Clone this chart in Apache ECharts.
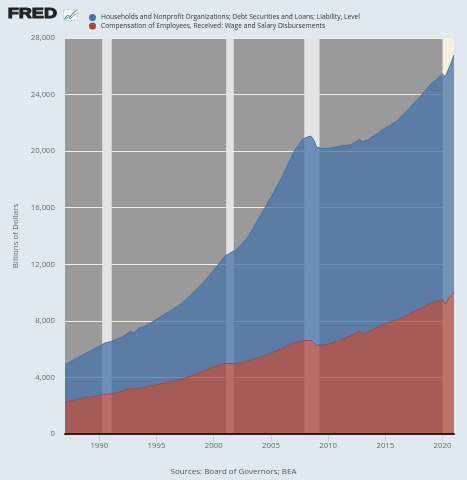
<!DOCTYPE html>
<html>
<head>
<meta charset="utf-8">
<script src="https://cdn.jsdelivr.net/npm/echarts@6/dist/echarts.min.js"></script>
<style>
html,body{margin:0;padding:0;background:#e1e9f0;}
#chart{width:467px;height:480px;}
</style>
</head>
<body>
<div id="chart"></div>
<script>
// Observation dates (quarter starts, YYYY-MM)
const dates = [
  '1987-01','1988-01','1989-01','1990-01','1990-07','1991-01','1992-01','1992-10','1993-01','1993-07',
  '1994-01','1995-01','1996-01','1997-01','1998-01','1999-01','2000-01','2001-01','2002-01','2003-01',
  '2004-01','2005-01','2006-01','2007-01','2007-10','2008-04','2008-07','2008-10','2009-01','2009-07',
  '2010-01','2011-01','2012-01','2012-10','2013-01','2013-07','2014-01','2015-01','2016-01','2017-01',
  '2018-01','2019-01','2019-10','2020-01','2020-04','2020-07','2020-10','2021-01'
];
// Compensation of Employees: Wage and Salary Disbursements (billions of $)
const wages = [
  2250,2430,2600,2740,2800,2830,3020,3250,3150,3230,
  3310,3480,3660,3820,4100,4400,4750,5000,4980,5150,
  5400,5720,6060,6450,6580,6630,6600,6450,6270,6280,
  6340,6620,6950,7280,7090,7220,7420,7800,8060,8450,
  8840,9270,9420,9480,9170,9550,9800,10040
];
// Households and Nonprofit Organizations; Debt Securities and Loans (billions of $)
const debt = [
  2650,2920,3180,3480,3630,3700,3830,4010,3990,4270,
  4310,4630,4940,5280,5730,6230,6820,7600,8070,8780,
  9950,11000,12170,13500,14250,14380,14460,14330,13990,13910,
  13850,13730,13500,13550,13570,13580,13680,13840,14070,14500,
  14980,15500,15830,15970,16090,16200,16450,16760
];
const recessions = [['1990-04-01','1991-02-01'],['2001-02-01','2001-10-01'],['2007-12-01','2009-04-01']];
const currentShade = ['2020-01-01','2021-01-01'];
const xTickYears = [1990,1995,2000,2005,2010,2015,2020];
const debtName = 'Households and Nonprofit Organizations; Debt Securities and Loans; Liability, Level';
const wageName = 'Compensation of Employees, Received: Wage and Salary Disbursements';

const ts = s => { const p = s.split('-'); return Date.UTC(+p[0], (+p[1]||1)-1, +p[2]||1); };
const xMin = ts('1987-01-01'), xMax = ts('2021-01-01');
const xTicks = xTickYears.map(y => Date.UTC(y,0,1));
const wageData = dates.map((d,i)=>[ts(d), wages[i]]);
const debtData = dates.map((d,i)=>[ts(d), debt[i]]);
const bandData = recessions.map(r=>[{xAxis:ts(r[0]), itemStyle:{color:'#e4e4e4'}},{xAxis:ts(r[1])}]);
bandData.push([{xAxis:ts(currentShade[0]), itemStyle:{color:'#f4f2dc'}},{xAxis:ts(currentShade[1])}]);

const chart = echarts.init(document.getElementById('chart'), null, {renderer:'canvas', useUTC:true});
const font = '"Open Sans", "Noto Sans", sans-serif';
chart.setOption({
  useUTC:true,
  backgroundColor:'#e1e9f0',
  animation:false,
  textStyle:{fontFamily:font},
  graphic:[
    {type:'text', left:7, top:6, scaleX:1.25, style:{text:'FRED', fontSize:14.5, fontWeight:900, fill:'#222', stroke:'#222', lineWidth:1, fontFamily:'"Liberation Sans", Arial, sans-serif'}},
    {type:'group', left:62, top:8, children:[
      {type:'rect', shape:{x:0,y:0,width:14,height:11}, style:{fill:'#eef2f5', stroke:'#b8c4cc', lineWidth:0.5}},
      {type:'polyline', shape:{points:[[1,9],[4,6],[7,7],[10,3],[13,1]]}, style:{stroke:'#3d7f4d', lineWidth:1, fill:null}},
      {type:'polyline', shape:{points:[[1,10],[4,8],[7,9],[10,6],[13,4]]}, style:{stroke:'#6b96bf', lineWidth:1, fill:null}}
    ]},
    {type:'text', left:'center', top:468, style:{text:'Sources: Board of Governors; BEA', fontSize:8, fill:'#555', fontFamily:font}}
  ],
  legend:{
    orient:'vertical', left:84, top:9, itemGap:1.5, itemWidth:7, itemHeight:7, icon:'circle',
    data:[debtName, wageName],
    textStyle:{fontSize:6.7, color:'#333', fontFamily:font, padding:[0,0,0,0]}
  },
  grid:{left:65, right:13, top:38, bottom:46, show:true, backgroundColor:'#9a9a9a', borderWidth:0},
  xAxis:[
    { // time axis carrying the series (so stacking applies to values)
      type:'time', min:xMin, max:xMax, position:'bottom',
      splitLine:{show:false}, axisTick:{show:false}, axisLabel:{show:false},
      axisLine:{show:true, lineStyle:{color:'#222', width:2}}, z:5
    },
    { // companion axis for the 5-year ticks and labels
      type:'value', min:xMin, max:xMax, position:'bottom',
      splitLine:{show:false}, axisLine:{show:false},
      axisTick:{show:true, customValues:xTicks, length:8, lineStyle:{color:'#c9d1d8'}},
      axisLabel:{customValues:xTicks, formatter:v=>String(new Date(v).getUTCFullYear()), color:'#666', fontSize:7.8, margin:8}
    }
  ],
  yAxis:{
    type:'value', min:0, max:28000, interval:4000,
    name:'Billions of Dollars', nameLocation:'middle', nameGap:45, nameRotate:90,
    nameTextStyle:{color:'#666', fontSize:8},
    axisLine:{show:false}, axisTick:{show:false},
    axisLabel:{color:'#666', fontSize:7.8, margin:10, formatter:v=>v.toLocaleString('en-US')},
    splitLine:{lineStyle:{color:'#ececec', width:1}}
  },
  series:[
    {type:'line', name:'bands', xAxisIndex:0, data:[], z:1, silent:true,
     markArea:{silent:true, data:bandData}},
    {type:'line', name:wageName, xAxisIndex:0, stack:'total', data:wageData, z:3, showSymbol:false,
     color:'#aa4643', lineStyle:{width:1, color:'#aa4643'},
     areaStyle:{color:'#aa4643', opacity:0.75}},
    {type:'line', name:debtName, xAxisIndex:0, stack:'total', data:debtData, z:2, showSymbol:false,
     color:'#4572a7', lineStyle:{width:1, color:'#4572a7'},
     areaStyle:{color:'#4572a7', opacity:0.75}}
  ]
});
</script>
</body>
</html>
